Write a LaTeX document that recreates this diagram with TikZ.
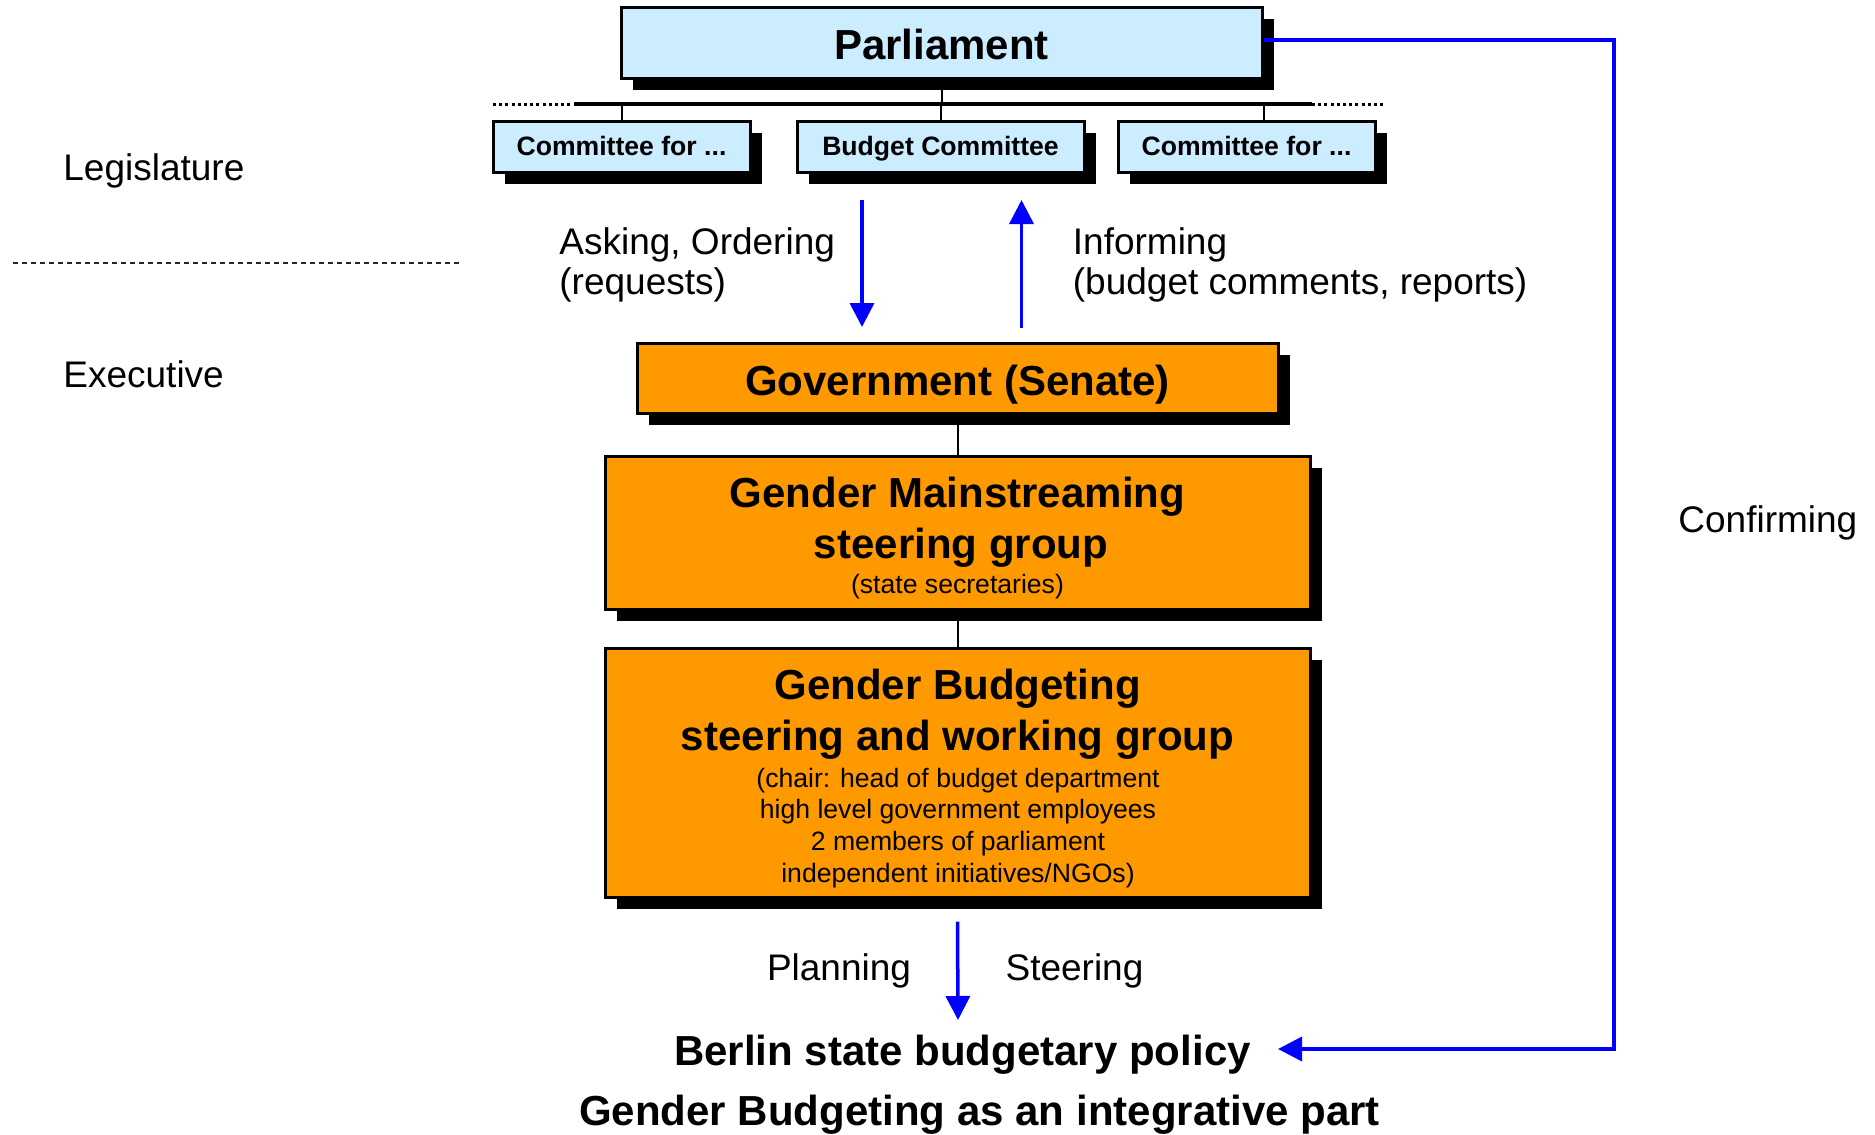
\documentclass[tikz,border=0pt]{standalone}
\usepackage{fontspec}
\setmainfont{Liberation Sans}
\usetikzlibrary{arrows.meta,shadows}
\definecolor{lblue}{RGB}{204,236,255}
\definecolor{orng}{RGB}{255,153,0}
\definecolor{arrblue}{RGB}{0,0,255}
\begin{document}
\begin{tikzpicture}[x=0.5pt,y=-0.5pt,
  box/.style={draw=black, line width=1.5pt, inner sep=0pt, align=center,
     drop shadow={shadow xshift=6pt, shadow yshift=-6pt, fill=black, opacity=1}},
  parlbox/.style={box, fill=lblue, font=\fontsize{21pt}{25pt}\selectfont\bfseries, text height=17pt, text depth=0pt},
  combox/.style={box, fill=lblue, font=\fontsize{13.3pt}{16pt}\selectfont\bfseries, text height=8.5pt, text depth=0pt, minimum height=25.5pt},
  orbox/.style={box, fill=orng},
  govbox/.style={orbox, font=\fontsize{21pt}{25pt}\selectfont\bfseries, text height=17pt, text depth=0pt},
  big/.style={inner sep=0pt, font=\fontsize{21pt}{25pt}\selectfont\bfseries, anchor=base},
  small/.style={inner sep=0pt, font=\fontsize{13.3pt}{16pt}\selectfont, anchor=base},
  lbl/.style={inner sep=0pt, font=\fontsize{18.5pt}{22pt}\selectfont, anchor=base west},
  lblc/.style={lbl, anchor=base},
  conn/.style={line width=1pt},
  blarrow/.style={draw=arrblue, line width=1.75pt, -{Triangle[length=12pt,width=12pt]}},
]
\fill[white] (0,0) rectangle (1875,1135);
\useasboundingbox (0,0) rectangle (1875,1135);

% legislature / executive
\node[lbl] (leg) at (63,180) {Legislature};
\draw[black!85, line width=0.6pt, dash pattern=on 2.5pt off 2pt] (13,263) -- (459,263);
\node[lbl] (exe) at (63,387) {Executive};

% parliament and committees
\node[parlbox, minimum width=320.5pt, minimum height=35.5pt] (parl) at (941.5,42.5) {Parliament};
\node[combox, minimum width=128.5pt] (c1) at (621.5,146.5) {Committee for ...};
\node[combox, minimum width=143.5pt] (c2) at (940.5,146.5) {Budget Committee};
\node[combox, minimum width=128.5pt] (c3) at (1246.5,146.5) {Committee for ...};

\coordinate (barL) at (493,104);
\coordinate (barS1) at (574,104);
\coordinate (barS2) at (1312,104);
\coordinate (barR) at (1384,104);
\draw[line width=1.75pt] (barS1) -- (barS2);
\draw[line width=1.5pt, dash pattern=on 1.5pt off 1.6pt] (barL) -- (barS1);
\draw[line width=1.5pt, dash pattern=on 1.5pt off 1.6pt] (barS2) -- (barR);
\draw[conn] (parl.south) -- (parl.south |- barS1);
\draw[conn] (c1.north) -- (c1.north |- barS1);
\draw[conn] (c2.north) -- (c2.north |- barS1);
\draw[conn] (parl.east |- c3.north) -- (parl.east |- barS1);

% arrows between legislature and government
\coordinate (a1s) at (862,200);
\coordinate (a1e) at (862,327);
\coordinate (a2s) at (1021.5,328);
\coordinate (a2e) at (1021.5,200);
\draw[blarrow] (a1s) -- (a1e);
\draw[blarrow] (a2s) -- (a2e);
\node[lbl] (ask1) at (559,254) {Asking, Ordering};
\node[lbl] (ask2) at (559,294) {(requests)};
\node[lbl] (inf1) at (1072.5,254) {Informing};
\node[lbl] (inf2) at (1072.5,294) {(budget comments, reports)};

% executive boxes
\node[govbox, minimum width=320.5pt, minimum height=35pt] (gov) at (957.5,378) {Government (Senate)};
\node[orbox, minimum width=352.5pt, minimum height=76.5pt] (gm) at (957.5,532.5) {};
\node[orbox, minimum width=352.5pt, minimum height=124.5pt] (gb) at (957.5,772.5) {};
\draw[conn] (gov.south) -- (gm.north);
\draw[conn] (gm.south) -- (gb.north);

\node[big] (gm1) at (957.5,507) {Gender Mainstreaming};
\node[big] (gm2) at (961,558) {steering group};
\node[small] (gm3) at (957.5,593) {(state secretaries)};

\node[big] (gb1) at (957.5,699) {Gender Budgeting};
\node[big] (gb2) at (957.5,750) {steering and working group};
\node[small] (gb3) at (958,787) {(chair: head of budget department};
\node[small] (gb4) at (958,818) {high level government employees};
\node[small] (gb5) at (958,850) {2 members of parliament};
\node[small] (gb6) at (958,882) {independent initiatives/NGOs)};

% planning / steering
\coordinate (ptip) at (958,1020);
\draw[blarrow] ([yshift=-11.5pt]gb.south) -- (ptip);
\node[lblc] (plan) at (839,980) {Planning};
\node[lblc] (steer) at (1074.5,980) {Steering};
\node[big] (berlin) at (962.5,1065) {Berlin state budgetary policy};
\node[big] (gbpart) at (979.5,1125) {Gender Budgeting as an integrative part};

% confirming
\coordinate (cr) at (1614,40);
\coordinate (ctip) at (1278,1049);
\draw[blarrow] (parl.east |- cr) -- (cr) |- (ctip);
\node[lbl] (conf) at (1678,532) {Confirming};
\end{tikzpicture}
\end{document}
